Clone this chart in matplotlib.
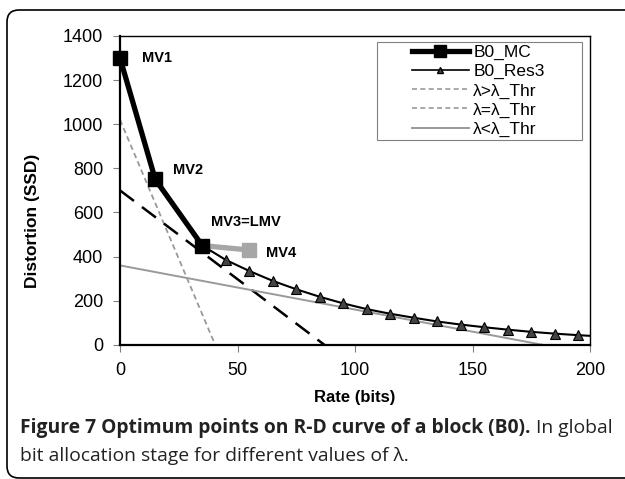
import matplotlib
matplotlib.use("Agg")
import matplotlib.pyplot as plt
from matplotlib.lines import Line2D
from matplotlib.patches import FancyBboxPatch, Rectangle
from matplotlib.transforms import IdentityTransform

plt.rcParams['font.family'] = ['Liberation Sans', 'DejaVu Sans']

# B0_MC motion vector candidates (MV1, MV2, MV3)
mc_rate = [0, 15, 35]
mc_dist = [1300, 750, 450]

# MV3 -> MV4 (gray)
mv4_rate = [35, 55]
mv4_dist = [450, 430]

# B0_Res3 curve
res_rate = [35, 45, 55, 65, 75, 85, 95, 105, 115, 125, 135, 145, 155, 165, 175, 185, 195, 200]
res_dist = [450, 385, 335, 290, 252, 218, 188, 162, 141, 123, 106, 92, 80, 69, 59, 51, 44, 41]
res_marker_idx = list(range(1, 17))

# lambda lines (rate, distortion end points)
gt_rate = [0, 40.5]
gt_dist = [1020, 0]
eq_rate = [0, 87]
eq_dist = [700, 0]
lt_rate = [0, 180]
lt_dist = [360, 0]

mv_labels = ["MV1", "MV2", "MV3=LMV", "MV4"]
mv_points = [(0, 1300), (15, 750), (35, 450), (55, 430)]
mv_offsets = [(16, 0), (13, 6.5), (6, 17), (12, -2)]

legend_labels = ["B0_MC", "B0_Res3", "λ>λ_Thr", "λ=λ_Thr", "λ<λ_Thr"]

fig = plt.figure(figsize=(6.25, 4.79), dpi=100)
ax = fig.add_axes([0.192, 0.280, 0.752, 0.645])

ax.plot(gt_rate, gt_dist, color='#999999', lw=1.3, dashes=(3, 2))
ax.plot(eq_rate, eq_dist, color='black', lw=1.8, dashes=(7, 4))
ax.plot(lt_rate, lt_dist, color='#999999', lw=1.4)
ax.plot(res_rate, res_dist, color='black', lw=1.5, marker='^', markevery=res_marker_idx,
        markersize=7, markerfacecolor='#444444', markeredgecolor='black', markeredgewidth=0.8)
ax.plot(mv4_rate, mv4_dist, color='#a6a6a6', lw=3.8, marker='s', markevery=[1],
        markersize=10, markerfacecolor='#a6a6a6', markeredgecolor='#a6a6a6')
ax.plot(mc_rate, mc_dist, color='black', lw=3.8, marker='s', markersize=10, clip_on=False)

for lab, (px, py), off in zip(mv_labels, mv_points, mv_offsets):
    ax.annotate(lab, (px, py), xytext=off, textcoords='offset points',
                fontsize=10.5, fontweight='bold', va='center', ha='left')

ax.set_xlim(0, 200)
ax.set_ylim(0, 1400)
ax.set_xticks([0, 50, 100, 150, 200])
ax.set_yticks(range(0, 1401, 200))
ax.tick_params(axis='both', direction='out', length=5, width=0.8, color='#808080',
               labelsize=13, pad=7)
for side in ['left', 'bottom']:
    ax.spines[side].set_linewidth(1.6)
for side in ['top', 'right']:
    ax.spines[side].set_linewidth(1.0)

ax.set_xlabel("Rate (bits)", fontsize=12, fontweight='bold', labelpad=8)
ax.set_ylabel("Distortion (SSD)", fontsize=12.5, fontweight='bold')
ax.yaxis.set_label_coords(-0.170, 0.40)

handles = [
    Line2D([], [], color='black', lw=3.8, marker='s', markersize=8),
    Line2D([], [], color='black', lw=1.2, marker='^', markersize=5,
           markerfacecolor='#444444', markeredgecolor='black'),
    Line2D([], [], color='#999999', lw=1.2, dashes=(3, 2)),
    Line2D([], [], color='#999999', lw=1.2, dashes=(3, 2)),
    Line2D([], [], color='#999999', lw=1.4),
]
ax.add_patch(Rectangle((0.547, 0.663), 0.436, 0.318, transform=ax.transAxes,
                       facecolor='white', edgecolor='#808080', lw=0.8, zorder=4))
leg = ax.legend(handles, legend_labels, loc='center', bbox_to_anchor=(0.762, 0.822),
                frameon=False, fontsize=12.5, handlelength=3.3, handletextpad=0.25,
                labelspacing=0.22, numpoints=1, borderpad=0)
leg.set_zorder(5)

# rounded frame around the figure panel
frame = FancyBboxPatch((7, 1), 640, 468, boxstyle='round,pad=0,rounding_size=12',
                       transform=IdentityTransform(), facecolor='none',
                       edgecolor='black', lw=1.2)
fig.patches.append(frame)

# caption
cap_font = ['Open Sans', 'DejaVu Sans']
cap1 = fig.text(0.032, 0.095, "Figure 7 Optimum points on R-D curve of a block (B0).",
                fontsize=13.9, fontweight='bold', family=cap_font,
                color='#222222', va='baseline')
fig.canvas.draw()
bb = cap1.get_window_extent()
fig.text((bb.x1 + 5) / fig.bbox.width, 0.095, "In global",
         fontsize=13.9, family=cap_font, color='#222222', va='baseline')
fig.text(0.032, 0.037, "bit allocation stage for different values of λ.",
         fontsize=13.9, family=cap_font, color='#222222', va='baseline')

fig.savefig("out.png", dpi=100)
